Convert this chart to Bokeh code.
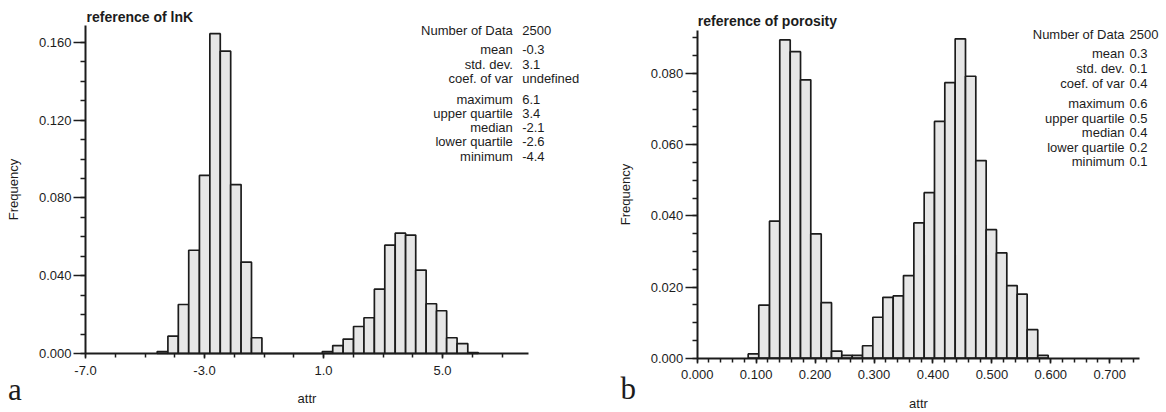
from bokeh.plotting import figure
from bokeh.layouts import row
from bokeh.models import Range1d, FixedTicker, NumeralTickFormatter, Label
from bokeh.embed import file_html
from bokeh.resources import INLINE

# ---------------- data: panel a (lnK) ----------------
lnk_edges = [-4.59, -4.23, -3.88, -3.53, -3.17, -2.82, -2.47, -2.12, -1.77, -1.42,
             -1.07, -0.72, -0.38, -0.03, 0.31, 0.61, 0.96, 1.31, 1.66, 2.01,
             2.36, 2.71, 3.06, 3.41, 3.76, 4.10, 4.45, 4.80, 5.14, 5.49, 5.85, 6.20]
lnk_freq = [0.0010, 0.0089, 0.0252, 0.0531, 0.0916, 0.1645, 0.1555, 0.0869, 0.0470, 0.0081,
            0.0, 0.0, 0.0, 0.0, 0.0, 0.0,
            0.0010, 0.0041, 0.0074, 0.0139, 0.0184, 0.0331, 0.0557, 0.0619, 0.0609, 0.0429,
            0.0256, 0.0220, 0.0081, 0.0051, 0.0005]
lnk_xticks = [-7.0, -3.0, 1.0, 5.0]
lnk_xminor = [-7.0, -6.0, -5.0, -4.0, -3.0, -2.0, -1.0, 0.0, 1.0, 2.0, 3.0, 4.0, 5.0, 6.0, 7.0]
lnk_yticks = [0.0, 0.04, 0.08, 0.12, 0.16]
lnk_yminor = [0.0, 0.01, 0.02, 0.03, 0.04, 0.05, 0.06, 0.07, 0.08, 0.09, 0.10, 0.11,
              0.12, 0.13, 0.14, 0.15, 0.16]
lnk_stat_names = ["Number of Data", "mean", "std. dev.", "coef. of var",
                  "maximum", "upper quartile", "median", "lower quartile", "minimum"]
lnk_stat_values = ["2500", "-0.3", "3.1", "undefined", "6.1", "3.4", "-2.1", "-2.6", "-4.4"]

# ---------------- data: panel b (porosity) ----------------
por_edges = [0.0865, 0.1045, 0.1227, 0.1401, 0.1578, 0.1753, 0.1927, 0.2104, 0.2279, 0.2453,
             0.2630, 0.2805, 0.2980, 0.3150, 0.3325, 0.3500, 0.3676, 0.3851, 0.4026, 0.4201,
             0.4377, 0.4552, 0.4727, 0.4903, 0.5078, 0.5253, 0.5429, 0.5598, 0.5778, 0.5955]
por_freq = [0.0012, 0.0149, 0.0385, 0.0894, 0.0861, 0.0782, 0.0349, 0.0156, 0.0020, 0.0008,
            0.0008, 0.0035, 0.0115, 0.0171, 0.0175, 0.0232, 0.0380, 0.0465, 0.0665, 0.0774,
            0.0897, 0.0792, 0.0555, 0.0361, 0.0296, 0.0204, 0.0180, 0.0080, 0.0008]
por_xticks = [0.0, 0.1, 0.2, 0.3, 0.4, 0.5, 0.6, 0.7]
por_xminor = [round(0.02 * i, 2) for i in range(0, 38)]
por_yticks = [0.0, 0.02, 0.04, 0.06, 0.08]
por_yminor = [round(0.005 * i, 3) for i in range(0, 19)]
por_stat_names = ["Number of Data", "mean", "std. dev.", "coef. of var",
                  "maximum", "upper quartile", "median", "lower quartile", "minimum"]
por_stat_values = ["2500", "0.3", "0.1", "0.4", "0.6", "0.5", "0.4", "0.2", "0.1"]

SANS = "Liberation Sans"
SERIF = "Liberation Serif"
INK = "#1c1c1c"
FILL = "#e6e6e6"
W, H = 583, 412


def make_panel(edges, freq, xview, yview, xbounds, ybounds,
               xticks, xminor, yticks, yminor, xfmt, yfmt,
               title, names, values, rows_y, name_x, value_x, title_pos, letter, letter_pos):
    p = figure(width=W, height=H, output_backend="svg", toolbar_location=None, title=None,
               x_range=Range1d(*xview), y_range=Range1d(*yview),
               min_border_left=0, min_border_right=0, min_border_top=0, min_border_bottom=0)
    p.outline_line_color = None
    p.xgrid.visible = False
    p.ygrid.visible = False
    p.background_fill_color = "white"
    p.border_fill_color = "white"

    p.quad(left=edges[:-1], right=edges[1:], bottom=0, top=freq,
           fill_color=FILL, line_color=INK, line_width=1.7)

    for ax in (p.xaxis[0], p.yaxis[0]):
        ax.axis_line_color = INK
        ax.axis_line_width = 2
        ax.major_tick_line_color = INK
        ax.minor_tick_line_color = INK
        ax.major_tick_line_width = 1.5
        ax.minor_tick_line_width = 1.5
        ax.major_tick_in = 0
        ax.minor_tick_in = 0
        ax.major_label_text_font = SANS
        ax.major_label_text_font_size = "13px"
        ax.major_label_text_color = INK
        ax.axis_label_text_font = SANS
        ax.axis_label_text_font_size = "13px"
        ax.axis_label_text_font_style = "normal"
        ax.axis_label_text_color = INK

    xa = p.xaxis[0]
    xa.fixed_location = ybounds[0]
    xa.bounds = xbounds
    xa.ticker = FixedTicker(ticks=xticks, minor_ticks=xminor)
    xa.formatter = NumeralTickFormatter(format=xfmt)
    xa.major_tick_out = 5
    xa.minor_tick_out = 4
    xa.major_label_standoff = 7
    xa.axis_label = "attr"
    xa.axis_label_standoff = 13

    ya = p.yaxis[0]
    ya.fixed_location = xbounds[0]
    ya.bounds = ybounds
    ya.ticker = FixedTicker(ticks=yticks, minor_ticks=yminor)
    ya.formatter = NumeralTickFormatter(format=yfmt)
    ya.major_tick_out = 12
    ya.minor_tick_out = 5
    ya.major_label_standoff = 2
    ya.axis_label = "Frequency"
    ya.axis_label_standoff = 15

    for nm, val, py in zip(names, values, rows_y):
        p.add_layout(Label(x=name_x, y=H - py, x_units="screen", y_units="screen",
                           text=nm, text_align="right", text_baseline="middle",
                           text_font=SANS, text_font_size="13px", text_color=INK))
        p.add_layout(Label(x=value_x, y=H - py, x_units="screen", y_units="screen",
                           text=val, text_align="left", text_baseline="middle",
                           text_font=SANS, text_font_size="13px", text_color=INK))
    p.add_layout(Label(x=title_pos[0], y=H - title_pos[1], x_units="screen", y_units="screen",
                       text=title, text_align="left", text_baseline="middle",
                       text_font=SANS, text_font_size="14px", text_font_style="bold",
                       text_color=INK))
    p.add_layout(Label(x=letter_pos[0], y=H - letter_pos[1], x_units="screen", y_units="screen",
                       text=letter, text_align="left", text_baseline="middle",
                       text_font=SERIF, text_font_size="31px", text_color=INK))
    return p


# panel a: 29.75 px per unit in x (x=-7 at px 85), 1944 px per unit in y (y=0 at px 353)
pa = make_panel(lnk_edges, lnk_freq,
                (-7.0 - 85 / 29.75, -7.0 + (W - 85) / 29.75),
                (-(H - 353) / 1944.0, 353 / 1944.0),
                (-7.0, 7.89), (0.0, 0.1687),
                lnk_xticks, lnk_xminor, lnk_yticks, lnk_yminor, "0.0", "0.000",
                "reference of lnK", lnk_stat_names, lnk_stat_values,
                [30, 49.3, 63.7, 78.3, 99, 112.7, 127, 141.3, 155.7],
                512.3, 521.7, (86, 16.5), "a", (7.5, 389))

# panel b: 589.4 px per unit in x (x=0 at px 113.7), 3560 px per unit in y (y=0 at px 357.7)
pb = make_panel(por_edges, por_freq,
                (-113.7 / 589.4, (W - 113.7) / 589.4),
                (-(H - 357.7) / 3560.0, 357.7 / 3560.0),
                (0.0, 0.751), (0.0, 0.0921),
                por_xticks, por_xminor, por_yticks, por_yminor, "0.000", "0.000",
                "reference of porosity", por_stat_names, por_stat_values,
                [34.3, 53.3, 68.3, 82.7, 103.3, 118, 132.3, 146.7, 161],
                541, 546, (114.3, 20.5), "b", (37, 387.5))

layout = row(pa, pb)
open("out.html", "w").write(file_html(layout, INLINE))
